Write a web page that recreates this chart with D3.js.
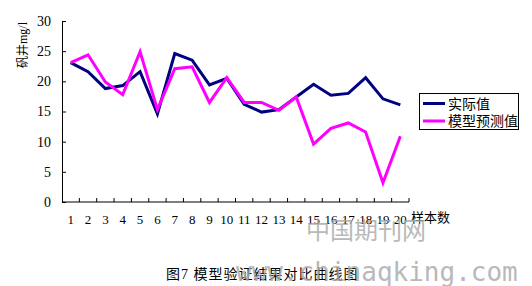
<!DOCTYPE html>
<html>
<head>
<meta charset="utf-8">
<script src="https://cdn.jsdelivr.net/npm/d3@7"></script>
<style>
  body { margin: 0; background: #fff; }
  svg text { font-family: "Liberation Serif", "Noto Sans CJK SC", serif; }
</style>
</head>
<body>
<div id="chart"></div>
<script>
// Data
var samples = d3.range(1, 21);
var actual = [23.1, 21.6, 18.8, 19.3, 21.6, 14.6, 24.6, 23.5, 19.4, 20.5,
              16.2, 14.9, 15.3, 17.4, 19.5, 17.7, 18.0, 20.6, 17.1, 16.1];
var predicted = [23.1, 24.4, 19.9, 17.8, 24.9, 15.3, 22.1, 22.4, 16.5, 20.6,
                 16.5, 16.5, 15.2, 17.4, 9.6, 12.2, 13.1, 11.6, 3.2, 10.9];
var yTicks = [0, 5, 10, 15, 20, 25, 30];
var seriesNames = ["实际值", "模型预测值"];
var seriesColors = ["#000080", "#ff00ff"];

var svg = d3.select("#chart").append("svg")
    .attr("width", 532)
    .attr("height", 286);

var x = d3.scaleBand().domain(samples).range([62, 409]);
var y = d3.scaleLinear().domain([0, 30]).range([202, 21]);

// y axis
var yAxis = svg.append("g")
    .attr("transform", "translate(62,0)")
    .call(d3.axisLeft(y).tickValues(yTicks).tickSizeInner(-4).tickSizeOuter(0).tickPadding(11));
yAxis.select(".domain").attr("stroke", "#000");
yAxis.selectAll("text").style("font-size", "14px").attr("fill", "#000");

// x axis
var xAxis = svg.append("g")
    .attr("transform", "translate(0,202)")
    .call(d3.axisBottom(x).tickSize(0).tickPadding(13));
xAxis.select(".domain").attr("d", "M62,0H409");
xAxis.selectAll("text").style("font-size", "13px").attr("fill", "#000");

// x tick marks between bands
svg.append("g").selectAll("line")
    .data(samples)
    .enter().append("line")
    .attr("x1", d => x(d) + x.bandwidth())
    .attr("x2", d => x(d) + x.bandwidth())
    .attr("y1", 202)
    .attr("y2", 198)
    .attr("stroke", "#000");

// lines
var line = d3.line()
    .x((d, i) => x(samples[i]) + x.bandwidth() / 2)
    .y(d => y(d));

[actual, predicted].forEach(function(series, k) {
    svg.append("path")
        .datum(series)
        .attr("d", line)
        .attr("fill", "none")
        .attr("stroke", seriesColors[k])
        .attr("stroke-width", 3)
        .attr("stroke-linejoin", "miter");
});

// axis titles
svg.append("text")
    .attr("transform", "translate(27,22) rotate(-90)")
    .attr("text-anchor", "end")
    .style("font-size", "12px")
    .text("矾井mg/l");

svg.append("text")
    .attr("x", 411)
    .attr("y", 222)
    .style("font-size", "13px")
    .text("样本数");

// legend
var legend = svg.append("g");
legend.append("rect")
    .attr("x", 419.5).attr("y", 93.5)
    .attr("width", 99).attr("height", 36)
    .attr("fill", "#fff").attr("stroke", "#000");
seriesNames.forEach(function(name, k) {
    var ly = 103.5 + k * 17.5;
    legend.append("line")
        .attr("x1", 423).attr("x2", 445)
        .attr("y1", ly).attr("y2", ly)
        .attr("stroke", seriesColors[k])
        .attr("stroke-width", 3);
    legend.append("text")
        .attr("x", 448).attr("y", ly + 5)
        .style("font-size", "14px")
        .text(name);
});

// caption
svg.append("text")
    .attr("x", 166)
    .attr("y", 279)
    .style("font-size", "14px")
    .style("letter-spacing", "1px")
    .text("图7 模型验证结果对比曲线图");

// watermarks
svg.append("text")
    .attr("x", 306)
    .attr("y", 239)
    .attr("fill", "#a8a8a8")
    .attr("opacity", 0.8)
    .style("font-size", "24px")
    .text("中国期刊网");
svg.append("text")
    .attr("x", 236)
    .attr("y", 281)
    .attr("fill", "#a8a8a8")
    .attr("opacity", 0.8)
    .style("font-family", "'DejaVu Sans Mono', monospace")
    .style("font-size", "26px")
    .text("www.chinaqking.com");
</script>
</body>
</html>
